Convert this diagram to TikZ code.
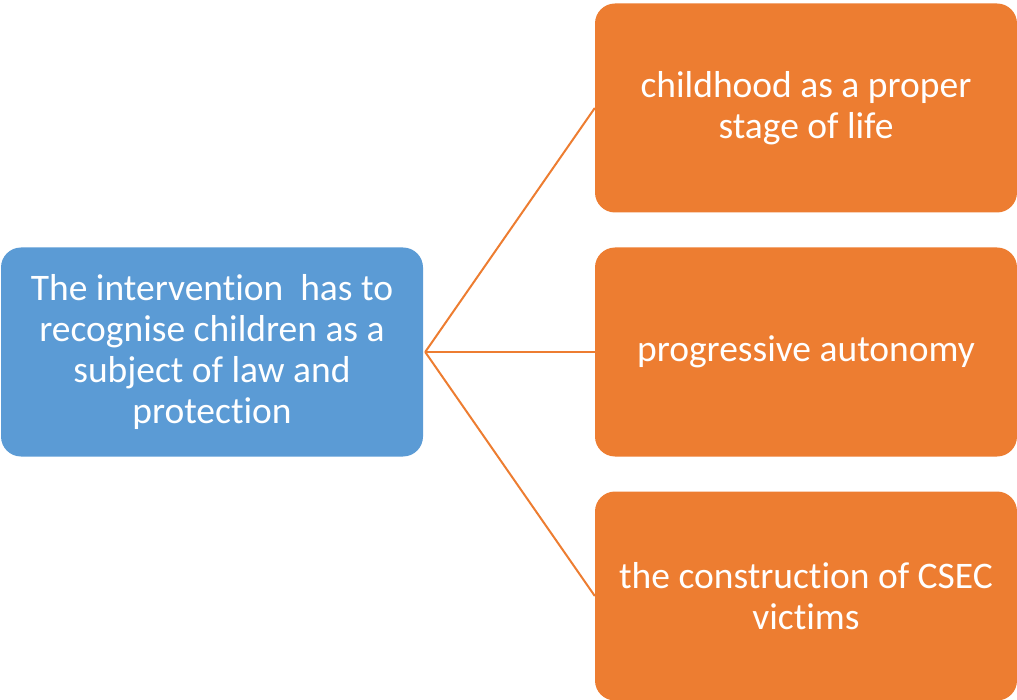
\documentclass[tikz,border=0pt]{standalone}
\usepackage{fontspec}
\setmainfont{Carlito}[Ligatures={NoCommon}]
\definecolor{cblue}{HTML}{5B9BD5}
\definecolor{corange}{HTML}{ED7D31}
\begin{document}
\begin{tikzpicture}[x=1pt,y=-1pt,
  boxstyle/.style={rounded corners=20pt, minimum width=422pt, minimum height=209pt,
    inner sep=0pt, text=white, align=center, font=\fontsize{37.5}{41}\selectfont},
  bluebox/.style={boxstyle, fill=cblue},
  orangebox/.style={boxstyle, fill=corange},
  link/.style={draw=corange, line width=2pt}]
\useasboundingbox (0,0) rectangle (1017,700);
\node[bluebox] (root) at (212,352) {The intervention\ \ has to\\recognise children as a\\subject of law and\\protection};
\node[orangebox] (a) at (806,108) {childhood as a proper\\stage of life};
\node[orangebox] (b) at (806,352) {progressive autonomy};
\node[orangebox] (c) at (806,596) {the construction of CSEC\\victims};
\coordinate (hub) at ([xshift=2pt]root.east);
\draw[link] (hub) -- (a.west);
\draw[link] (hub) -- (b.west);
\draw[link] (hub) -- (c.west);
\end{tikzpicture}
\end{document}
